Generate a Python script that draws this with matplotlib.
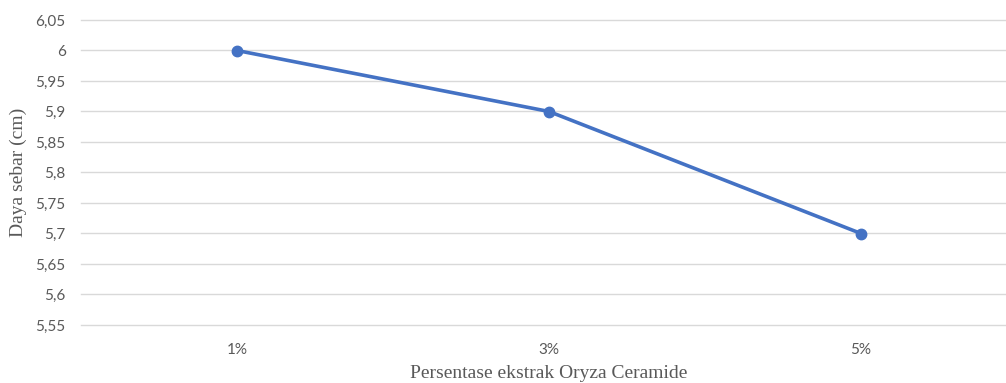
import matplotlib
matplotlib.use("Agg")
from matplotlib import pyplot as plt
from matplotlib.ticker import FuncFormatter, MultipleLocator

# Spreadability per extract concentration
concentrations = ["1%", "3%", "5%"]
spread_cm = [6.0, 5.9, 5.7]


def comma_fmt(v, pos):
    s = ("%.2f" % v).rstrip("0").rstrip(".")
    return s.replace(".", ",")


fig = plt.figure(figsize=(10.06, 3.83), dpi=100)
# axes run slightly past the right edge of the figure
ax = fig.add_axes([81 / 1006, 1 - 325 / 383, 936 / 1006, (325 - 20) / 383])

x = list(range(len(concentrations)))
ax.plot(x, spread_cm, color="#4472C4", linewidth=2.6, marker="o", markersize=7.5,
        solid_capstyle="round", zorder=3)

ax.set_xlim(-0.5, len(concentrations) - 0.5)
ax.set_ylim(5.55, 6.05)
ax.yaxis.set_major_locator(MultipleLocator(0.05))
ax.yaxis.set_major_formatter(FuncFormatter(comma_fmt))
ax.set_xticks(x)
ax.set_xticklabels(concentrations)

ax.grid(axis="y", color="#D9D9D9", linewidth=1.0)
for gl in ax.get_ygridlines():
    gl.set_clip_on(False)
ax.set_axisbelow(True)
for side in ["top", "right", "left", "bottom"]:
    ax.spines[side].set_visible(False)
ax.tick_params(length=0, labelsize=11, labelcolor="#595959", pad=13)
ax.tick_params(axis="y", pad=11)
for lbl in ax.get_xticklabels() + ax.get_yticklabels():
    lbl.set_family("Lato")

ax.set_xlabel("Persentase ekstrak Oryza Ceramide", family="Liberation Serif",
              fontsize=14, color="#595959", labelpad=6)
ax.set_ylabel("Daya sebar (cm)", family="Liberation Serif",
              fontsize=14, color="#595959", labelpad=6)

fig.savefig("out.png", dpi=100)
